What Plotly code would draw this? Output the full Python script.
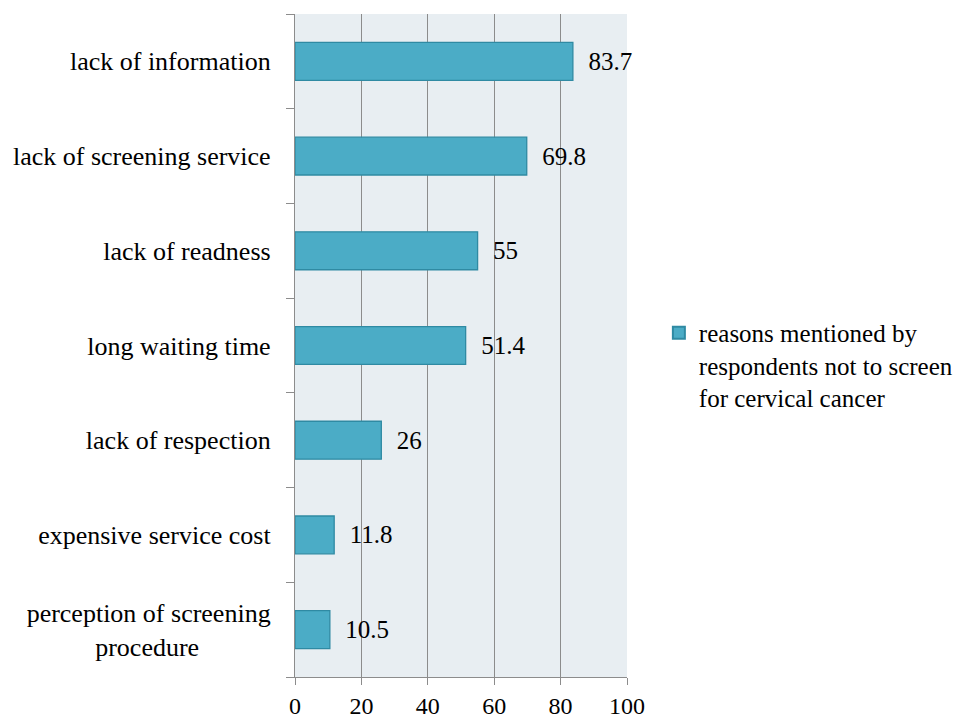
import plotly.graph_objects as go

NB = "\u00a0"
categories = [
    "perception of screening<br>procedure" + NB * 11,
    "expensive service cost",
    "lack of respection",
    "long waiting time",
    "lack of readness",
    "lack of screening service",
    "lack of information",
]
values = [10.5, 11.8, 26, 51.4, 55, 69.8, 83.7]
value_labels = ["10.5", "11.8", "26", "51.4", "55", "69.8", "83.7"]
x_ticks = [0, 20, 40, 60, 80, 100]
series_name = "reasons mentioned by<br>respondents not to screen<br>for cervical cancer"

FONT = "Liberation Serif, Times New Roman, serif"

fig = go.Figure()
fig.add_trace(go.Bar(
    y=categories,
    x=values,
    orientation="h",
    name=series_name,
    width=0.4,
    marker=dict(color="#4BACC6", line=dict(color="#2F8AA3", width=1.3)),
    text=["  " + t for t in value_labels],
    textposition="outside",
    textfont=dict(family=FONT, size=25, color="#000000"),
    cliponaxis=False,
    showlegend=True,
))

# page body has an 8px default margin, so the figure is offset by 8px
fig.update_layout(
    width=964,
    height=711,
    margin=dict(l=287, r=345, t=6, b=42, autoexpand=False),
    paper_bgcolor="white",
    plot_bgcolor="#E8EEF2",
    font=dict(family=FONT, size=26, color="#000000"),
    bargap=0.6,
    showlegend=True,
    legend=dict(
        x=1.096, y=0.47, xanchor="left", yanchor="middle",
        xref="paper", yref="paper",
        font=dict(family=FONT, size=25, color="#000000"),
        itemsizing="constant",
        itemwidth=30,
        valign="top",
        bgcolor="rgba(0,0,0,0)",
    ),
    xaxis=dict(
        range=[0, 100],
        tickvals=x_ticks,
        ticktext=[str(v) for v in x_ticks],
        showgrid=True,
        gridcolor="#8C8C8C",
        gridwidth=1.3,
        zeroline=False,
        showline=True,
        linecolor="#8C8C8C",
        linewidth=1.3,
        ticks="outside",
        ticklen=7,
        tickcolor="#8C8C8C",
        tickwidth=1.3,
        tickfont=dict(family=FONT, size=24, color="#000000"),
        automargin=False,
        fixedrange=True,
    ),
    yaxis=dict(
        type="category",
        categoryorder="array",
        categoryarray=categories,
        showgrid=False,
        showline=True,
        linecolor="#8C8C8C",
        linewidth=1.3,
        ticks="outside",
        tickson="boundaries",
        ticklen=8,
        tickcolor="#8C8C8C",
        tickwidth=1.3,
        ticklabelstandoff=18,
        tickfont=dict(family=FONT, size=26, color="#000000"),
        automargin=False,
        fixedrange=True,
    ),
)

fig.write_html("out.html")
